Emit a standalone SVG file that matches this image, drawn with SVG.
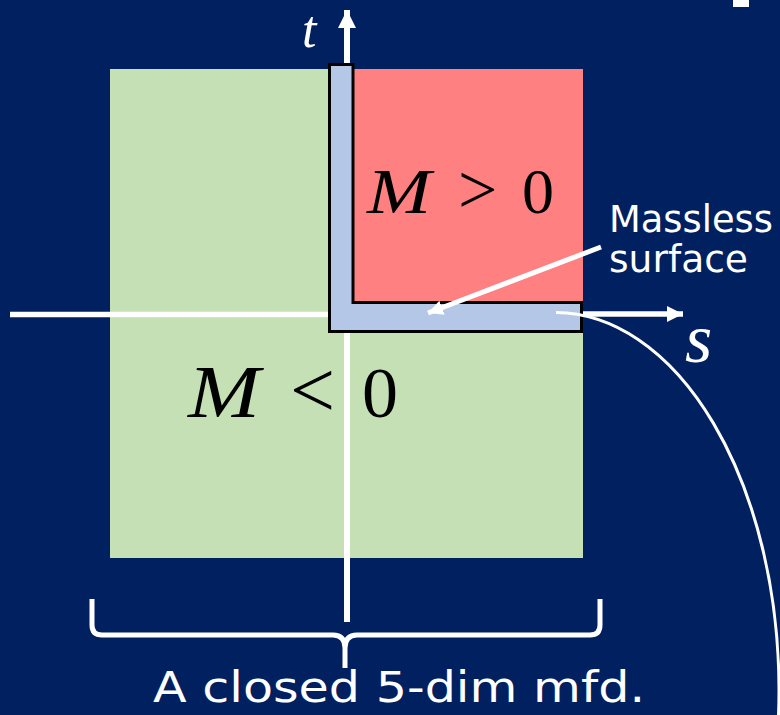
<svg xmlns="http://www.w3.org/2000/svg" width="780" height="715" viewBox="0 0 780 715">
<style>
.math{font-family:"Liberation Serif","DejaVu Serif",serif;fill:#000}
.it{font-style:italic}
.wm{fill:#fff}
.lbl{font-family:"DejaVu Sans","Liberation Sans",sans-serif;fill:#fff}
.wl{stroke:#fff;fill:none}
</style>
<defs>
<marker id="ah" viewBox="0 0 10 10" refX="10" refY="5" markerWidth="3" markerHeight="3.2" markerUnits="strokeWidth" orient="auto">
<path d="M0,0 L10,5 L0,10 z" fill="#fff"/>
</marker>
</defs>
<rect x="0" y="0" width="780" height="715" fill="#002060"/>
<rect x="733" y="0" width="16" height="7" fill="#fff"/>
<g id="region-negative">
<rect x="110" y="69" width="473" height="489" fill="#C5E0B4"/>
</g>
<g id="region-positive">
<rect x="352" y="69" width="231" height="234" fill="#FF8080"/>
</g>
<g id="connectors">
<line class="wl" x1="10" y1="314.5" x2="330" y2="314.5" stroke-width="5.5"/>
<line class="wl" x1="580" y1="314" x2="683" y2="314" stroke-width="5.5" marker-end="url(#ah)"/>
<line class="wl" x1="347" y1="622" x2="347" y2="10" stroke-width="6" marker-end="url(#ah)"/>
</g>
<g id="massless-surface">
<polygon points="329.5,64.5 353,64.5 353,302.5 581.5,302.5 581.5,331.5 329.5,331.5" fill="#B4C7E7" stroke="#000" stroke-width="3"/>
</g>
<g id="connectors-2">
<line class="wl" x1="601" y1="247" x2="428" y2="313" stroke-width="5" marker-end="url(#ah)"/>
<path class="wl" d="M 556 312.5 A 224 378 0 0 1 779 690 A 224 378 0 0 1 778.3 720" stroke-width="3"/>
<path class="wl" d="M 92 599 V 625 Q 92 635 102 635 H 333 Q 345 635 345 648 V 668 M 345 648 Q 345 635 357 635 H 590 Q 600 635 600 625 V 599" stroke-width="5"/>
</g>
<g id="labels">
<text class="math it wm" x="302" y="47" font-size="52">t</text>
<text class="math it wm" x="685" y="362" font-size="70">s</text>
<text class="math it" x="367" y="213" font-size="64" textLength="64" lengthAdjust="spacingAndGlyphs">M</text>
<text class="math" x="458" y="213" font-size="70">&gt;</text>
<text class="math" x="522" y="213" font-size="64">0</text>
<text class="math it" x="188" y="417" font-size="74" textLength="72" lengthAdjust="spacingAndGlyphs">M</text>
<text class="math" x="290" y="417" font-size="80">&lt;</text>
<text class="math" x="362" y="417" font-size="72">0</text>
<text class="lbl" x="609" y="232" font-size="37" textLength="164" lengthAdjust="spacingAndGlyphs">Massless</text>
<text class="lbl" x="609" y="272" font-size="37" textLength="139" lengthAdjust="spacingAndGlyphs">surface</text>
<text class="lbl" x="153" y="702" font-size="42" textLength="492" lengthAdjust="spacingAndGlyphs">A closed 5-dim mfd.</text>
</g>
</svg>
